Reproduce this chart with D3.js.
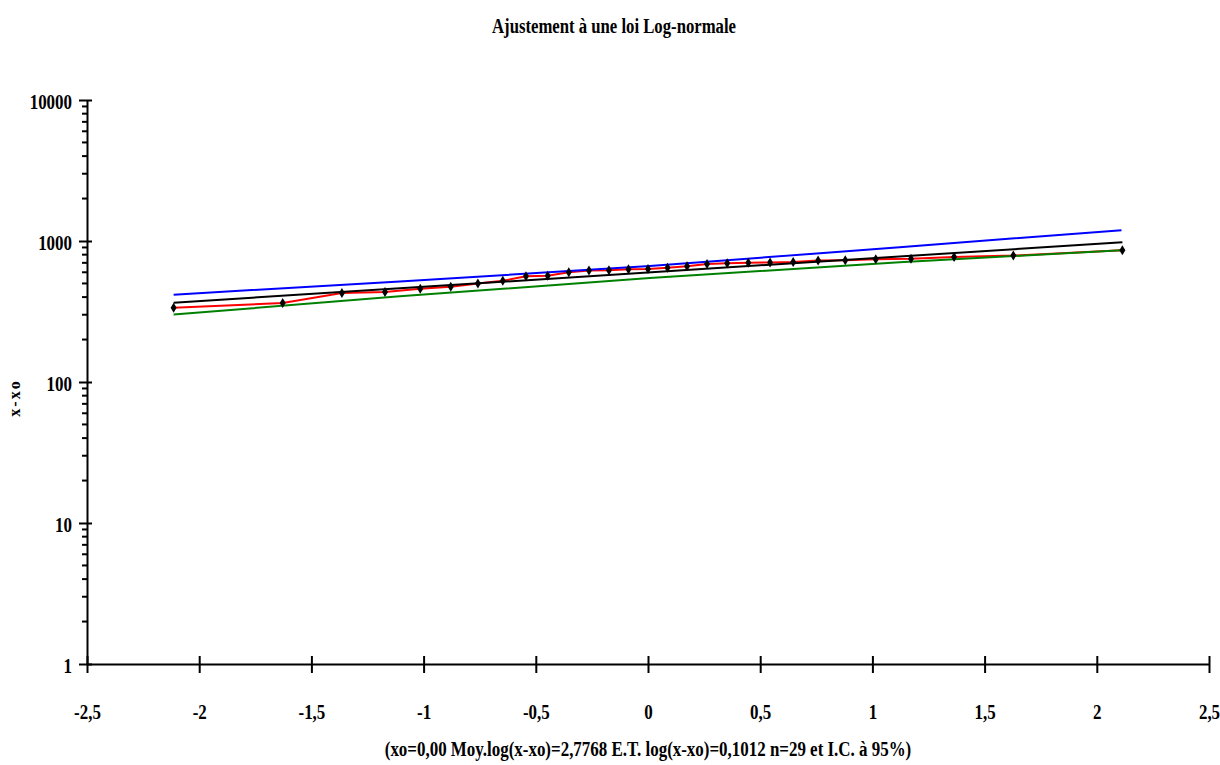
<!DOCTYPE html>
<html>
<head>
<meta charset="utf-8">
<script src="https://cdn.jsdelivr.net/npm/d3@7"></script>
<style>
	body { margin: 0; background: #fff; }
	text { font-family: "Liberation Serif", "Times New Roman", serif; font-weight: bold; fill: #000; }
</style>
</head>
<body>
<svg id="chart"></svg>
<script>
/*
	Data
	* quantiles: normal quantile of each ranked value (x axis)
	* observed: the 29 ranked values (y axis, log)
	* the fit and band lines are given at a few quantiles
*/
const quantiles = [-2.114, -1.628, -1.364, -1.172, -1.015, -0.879, -0.758, -0.647, -0.544, -0.447,
	-0.353, -0.263, -0.174, -0.087, 0, 0.087, 0.174, 0.263, 0.353, 0.447,
	0.544, 0.647, 0.758, 0.879, 1.015, 1.172, 1.364, 1.628, 2.114]
const observed = [336, 363, 428, 435, 458, 474, 499, 522, 562, 568,
	600, 617, 619, 630, 634, 645, 662, 688, 695, 702,
	705, 711, 726, 730, 742, 747, 771, 788, 860]

const fitX = [-2.114, 2.114]
const fitY = [365, 979]
const bandX = [-2.114, -1.106, 0.008, 1.121, 2.110]
const upperY = [416, 517, 664, 903, 1194]
const lowerY = [301, 405, 547, 707, 860]

const xTicks = [-2.5, -2, -1.5, -1, -0.5, 0, 0.5, 1, 1.5, 2, 2.5]
const yTicks = [1, 10, 100, 1000, 10000]

const title = 'Ajustement à une loi Log-normale'
const yLabel = 'x-xo'
const footer = '(xo=0,00 Moy.log(x-xo)=2,7768 E.T. log(x-xo)=0,1012 n=29 et I.C. à 95%)'

/*
	Drawing constants
*/
const [width, height] = [1220, 765]
const squeeze = 0.77 //the original font is a narrow serif

const svg = d3.select('#chart').attr('width', width).attr('height', height)

const x = d3.scaleLinear().domain([-2.5, 2.5]).range([87, 1209])
const y = d3.scaleLog().domain([1, 10000]).range([664, 100])

//x axis, ticks cross the line
const xAxis = d3.axisBottom(x).tickValues(xTicks).tickSize(0)
	.tickFormat(d => String(d).replace('.', ','))
const gx = svg.append('g').attr('transform', `translate(0,${y(1)})`).call(xAxis)
gx.select('.domain').attr('stroke', '#000').attr('stroke-width', 2)
gx.selectAll('.tick line').attr('y1', -8).attr('y2', 9).attr('stroke', '#000').attr('stroke-width', 2)
gx.selectAll('.tick text')
	.attr('y', 0).attr('dy', 0)
	.attr('transform', `translate(0,55) scale(${squeeze},1)`)
	.style('font-size', '22px')

//y axis, log with minor ticks
const yAxis = d3.axisLeft(y).tickValues(yTicks).tickSize(0).tickFormat(d3.format('d'))
const gy = svg.append('g').attr('transform', `translate(${x(-2.5)},0)`).call(yAxis)
gy.select('.domain').attr('stroke', '#000').attr('stroke-width', 2)
gy.selectAll('.tick line').attr('x1', -8).attr('x2', 5).attr('stroke', '#000').attr('stroke-width', 2)
gy.selectAll('.tick text')
	.attr('x', 0).attr('dy', 0)
	.attr('transform', `translate(-15,8) scale(${squeeze},1)`)
	.style('font-size', '22px')

const minor = []
yTicks.slice(0, -1).forEach(d => { for (let k = 2; k < 10; k++) minor.push(d * k) })
gy.selectAll('.minor').data(minor).enter().append('line')
	.attr('class', 'minor')
	.attr('x1', -5).attr('x2', 0)
	.attr('y1', y).attr('y2', y)
	.attr('stroke', '#000').attr('stroke-width', 2)

svg.selectAll('.domain').attr('fill', 'none')

/*
	Series lines
*/
const line = d3.line().x(d => x(d[0])).y(d => y(d[1]))
function drawLine(xs, ys, color) {
	svg.append('path')
		.datum(xs.map((v, i) => [v, ys[i]]))
		.attr('d', line)
		.attr('fill', 'none')
		.attr('stroke', color)
		.attr('stroke-width', 2)
}
drawLine(quantiles, observed, '#ff0000')
drawLine(fitX, fitY, '#000000')
drawLine(bandX, upperY, '#0000ff')
drawLine(bandX, lowerY, '#008000')

//diamond markers
svg.append('g').selectAll('path').data(quantiles).enter().append('path')
	.attr('d', (d, i) => `M${x(d)},${y(observed[i]) - 5}l3,5l-3,5l-3,-5z`)
	.attr('fill', '#000')

/*
	Texts
*/
function squeezedText(str, cx, cy, size, k) {
	svg.append('text')
		.attr('transform', `translate(${cx},${cy}) scale(${k},1)`)
		.attr('text-anchor', 'middle')
		.style('font-size', size + 'px')
		.text(str)
}
squeezedText(title, 614, 33, 22, 0.76)
squeezedText(footer, 648, 756, 22, 0.77)

svg.append('text')
	.attr('transform', 'translate(20,398) rotate(-90)')
	.attr('text-anchor', 'middle')
	.style('font-size', '16px')
	.style('letter-spacing', '2px')
	.text(yLabel)
</script>
</body>
</html>
